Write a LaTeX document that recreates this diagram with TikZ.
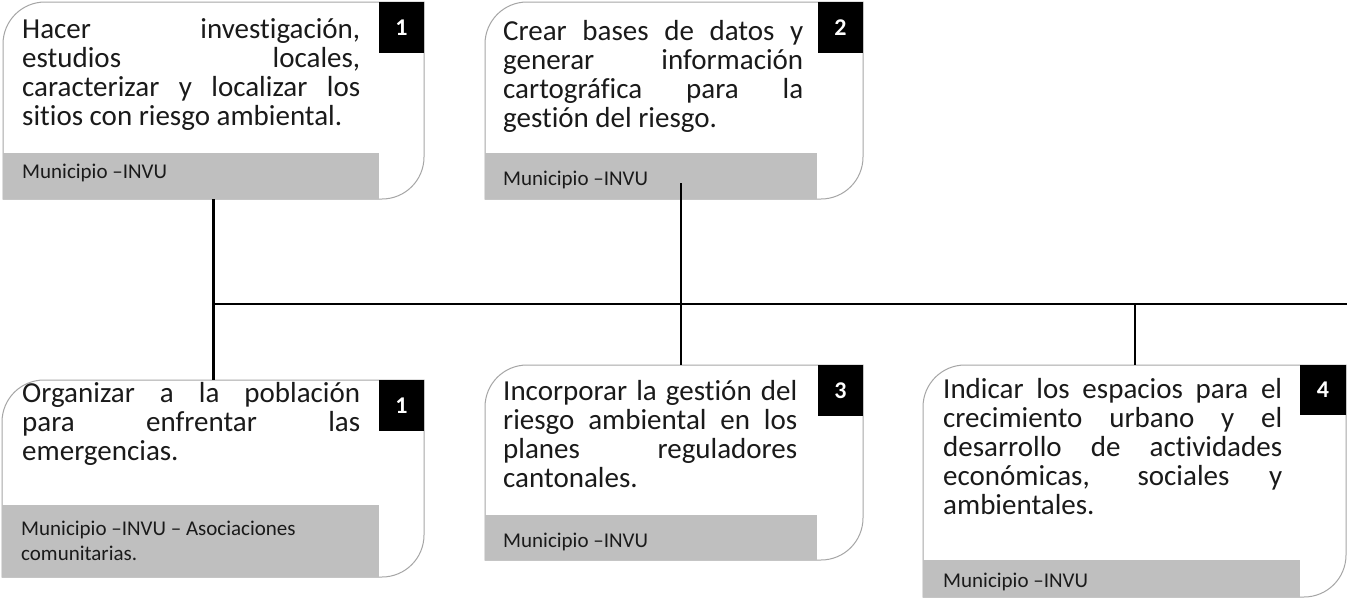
\documentclass[tikz,border=0pt]{standalone}
\usepackage{fontspec}
\setmainfont{Carlito}[Ligatures=CommonOff]
\usetikzlibrary{calc}
\definecolor{bargray}{HTML}{BFBFBF}
\definecolor{edgegray}{HTML}{A6A6A6}
\definecolor{ink}{HTML}{1A1A1A}
\tolerance=10000
\hbadness=10000
\hyphenpenalty=10000
\newcommand\boxoutline[1]{%
  \draw[boxline] (#1.south west) -- ([yshift=-42pt]#1.north west)
    arc[start angle=180,end angle=90,radius=42pt] -- (#1.north east)
    -- ([yshift=42pt]#1.south east)
    arc[start angle=0,end angle=-90,radius=42pt] -- cycle;}
\begin{document}
\begin{tikzpicture}[x=1pt,y=-1pt,
  boxarea/.style={rectangle,inner sep=0pt,outer sep=0pt},
  boxline/.style={draw=edgegray,line width=1pt},
  tab/.style={fill=black,text=white,font=\fontsize{24}{24}\selectfont\bfseries,
    inner sep=0pt,outer sep=0pt,minimum width=45pt,minimum height=51pt,anchor=north east},
  bar/.style={fill=bargray,inner sep=0pt,outer sep=0pt,anchor=south west},
  maintext/.style={anchor=north west,inner sep=0pt,align=justify,text=ink,
    font=\fontsize{29}{29}\selectfont},
  subtext/.style={anchor=north west,inner sep=0pt,align=flush left,text=ink,text width=340pt,
    font=\fontsize{21}{25}\selectfont},
  conn/.style={draw=black,line width=2pt},
  thickconn/.style={draw=black,line width=3.3pt}]
\useasboundingbox (0,0) rectangle (1347,608);
\fill[white] (0,0) rectangle (1347,608);

% box areas
\node[boxarea,minimum width=421pt,minimum height=197pt] (b1) at (213.5,100.5) {};
\node[boxarea,minimum width=378pt,minimum height=197pt] (b2) at (674,100.5) {};
\node[boxarea,minimum width=422pt,minimum height=197pt] (b5) at (213,478.5) {};
\node[boxarea,minimum width=378pt,minimum height=195pt] (b3) at (674,462.5) {};
\node[boxarea,minimum width=423pt,minimum height=232pt] (b4) at (1134.5,481) {};

% outlines
\boxoutline{b1}
\boxoutline{b2}
\boxoutline{b5}
\boxoutline{b3}
\boxoutline{b4}

% gray bars
\node[bar,minimum width=376pt,minimum height=46pt] (g1) at (b1.south west) {};
\node[bar,minimum width=332pt,minimum height=46pt] (g2) at (b2.south west) {};
\node[bar,minimum width=377pt,minimum height=72pt] (g5) at (b5.south west) {};
\node[bar,minimum width=332pt,minimum height=45pt] (g3) at (b3.south west) {};
\node[bar,minimum width=377pt,minimum height=37pt] (g4) at (b4.south west) {};

% number tabs
\node[tab] (n1) at (b1.north east) {1};
\node[tab] (n2) at (b2.north east) {2};
\node[tab] (n5) at (b5.north east) {1};
\node[tab] (n3) at (b3.north east) {3};
\node[tab,minimum width=46pt,minimum height=50pt] (n4) at (b4.north east) {4};

% main texts
\node[maintext,text width=338pt] (t1) at (22,17.7)
  {\strut Hacer investigación,\linebreak estudios locales,\linebreak caracterizar y localizar los\linebreak sitios con riesgo ambiental.};
\node[maintext,text width=300pt] (t2) at (503,19.7)
  {\strut Crear bases de datos y\linebreak generar información\linebreak cartográfica para la\linebreak gestión del riesgo.};
\node[maintext,text width=338pt] (t5) at (22,381.7)
  {\strut Organizar a la población\linebreak para enfrentar las\linebreak emergencias.};
\node[maintext,text width=294pt] (t3) at (503,379.7)
  {\strut Incorporar la gestión del\linebreak riesgo ambiental en los\linebreak planes reguladores\linebreak cantonales.};
\node[maintext,text width=339pt] (t4) at (943,377.7)
  {\strut Indicar los espacios para el\linebreak crecimiento urbano y el\linebreak desarrollo de actividades\linebreak económicas, sociales y\linebreak ambientales.};

% sub texts
\node[subtext] (s1) at (22,160.5) {\strut Municipio –INVU};
\node[subtext] (s2) at (503,167.5) {\strut Municipio –INVU};
\node[subtext] (s5) at (21,517.5) {\strut Municipio –INVU – Asociaciones\\comunitarias.};
\node[subtext] (s3) at (503,529.5) {\strut Municipio –INVU};
\node[subtext] (s4) at (943,569.5) {\strut Municipio –INVU};

% connectors
\coordinate (busE) at (1347,304);
\coordinate (m2) at (681,183);
\coordinate (r4) at (1135,304);
\draw[thickconn] (b1.south) -- (b1.south |- b5.north);
\draw[conn] (b1.south |- busE) -- (busE);
\draw[conn] (m2) -- (m2 |- b3.north);
\draw[conn] (r4) -- (r4 |- b4.north);
\end{tikzpicture}
\end{document}
